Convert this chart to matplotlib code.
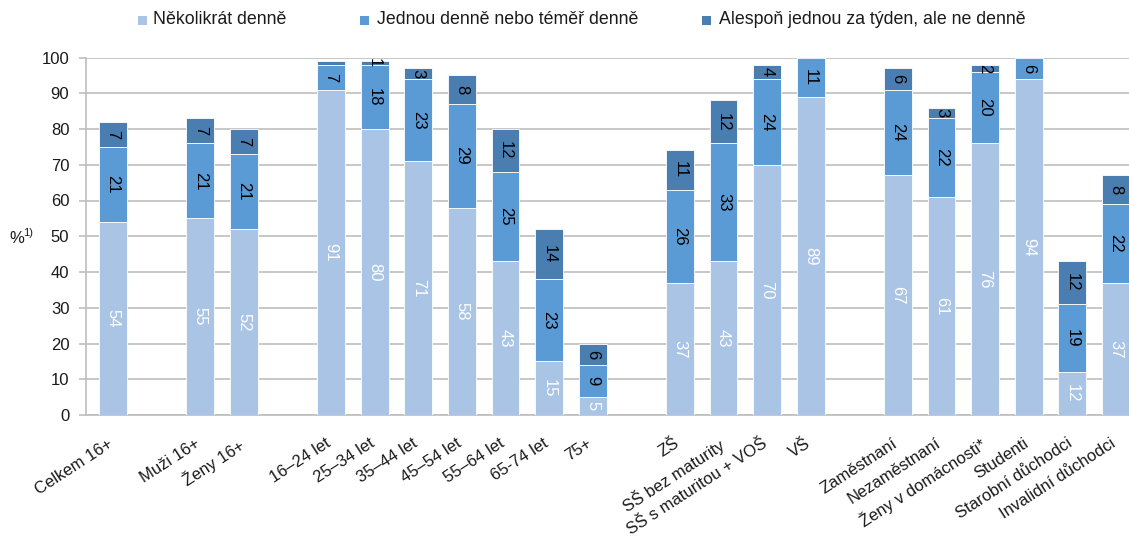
import matplotlib
matplotlib.use("Agg")
import matplotlib.pyplot as plt
import matplotlib.transforms as mtransforms
from matplotlib.patches import Rectangle

plt.rcParams['font.family'] = ['Liberation Sans', 'DejaVu Sans']

# Categories, listed group by group (a blank slot separates groups)
group_sizes = [1, 2, 7, 4, 6]
categories = [
    "Celkem 16+",
    "Muži 16+", "Ženy 16+",
    "16–24 let", "25–34 let", "35–44 let", "45–54 let", "55–64 let", "65-74 let", "75+",
    "ZŠ", "SŠ bez maturity", "SŠ s maturitou + VOŠ", "VŠ",
    "Zaměstnaní", "Nezaměstnaní", "Ženy v domácnosti*", "Studenti",
    "Starobní důchodci", "Invalidní důchodci",
]

series_names = ["Několikrát denně", "Jednou denně nebo téměř denně",
                "Alespoň jednou za týden, ale ne denně"]

several_daily = [54, 55, 52, 91, 80, 71, 58, 43, 15, 5, 37, 43, 70, 89, 67, 61, 76, 94, 12, 37]
daily = [21, 21, 21, 7, 18, 23, 29, 25, 23, 9, 26, 33, 24, 11, 24, 22, 20, 6, 19, 22]
weekly = [7, 7, 7, 1, 1, 3, 8, 12, 14, 6, 11, 12, 4, 0, 6, 3, 2, 0, 12, 8]
weekly_labelled = [True, True, True, False, True, True, True, True, True, True,
                   True, True, True, False, True, True, True, False, True, True]

colors = ["#A9C4E5", "#5B9BD5", "#4A7DB0"]
grid_color = "#BEBEBE"
text_color = "#1a1a1a"

# x positions with one empty slot between groups
positions = []
slot = 0
for size in group_sizes:
    for _ in range(size):
        positions.append(slot)
        slot += 1
    slot += 1

W, H = 1129, 536
fig = plt.figure(figsize=(W / 100, H / 100), dpi=100)
ax = fig.add_axes([86 / W, 121 / H, 1 - 86 / W, (415 - 57.5) / H])

bar_w = 0.64
bottoms = [0] * len(categories)
for vals, col in zip([several_daily, daily, weekly], colors):
    ax.bar(positions, vals, bottom=bottoms, width=bar_w, color=col,
           edgecolor="white", linewidth=0.6, zorder=3)
    bottoms = [b + v for b, v in zip(bottoms, vals)]

# value labels inside segments, rotated to read top-down
for i, x in enumerate(positions):
    base = 0
    for k, vals in enumerate([several_daily, daily, weekly]):
        v = vals[i]
        show = v > 0 and (k < 2 or weekly_labelled[i])
        if show:
            ax.text(x, base + v / 2, f"{v}", rotation=-90, ha="center", va="center",
                    rotation_mode="anchor", fontsize=12,
                    color="white" if k == 0 else "black", zorder=4)
        base += v

ax.set_ylim(0, 100)
ax.set_xlim(-0.62, 23.3)
ax.set_yticks(range(0, 101, 10))
ax.yaxis.grid(True, color=grid_color, linewidth=1.2, zorder=0)
ax.set_axisbelow(True)
ax.tick_params(axis="y", length=5, color=grid_color, width=1.2, pad=7,
               labelsize=12, labelcolor=text_color)
ax.tick_params(axis="x", length=0, pad=15, labelsize=12, labelcolor=text_color)
for side in ["top", "right"]:
    ax.spines[side].set_visible(False)
for side in ["left", "bottom"]:
    ax.spines[side].set_color(grid_color)
    ax.spines[side].set_linewidth(1.2)

ax.set_xticks(positions)
ax.set_xticklabels(categories, rotation=33, ha="right", va="top",
                   rotation_mode="anchor")
shift = mtransforms.ScaledTranslation(-6 / 100, 0, fig.dpi_scale_trans)
for lbl in ax.get_xticklabels():
    lbl.set_transform(lbl.get_transform() + shift)

# y axis caption "%" with superscript note mark
fig.text(9 / W, 1 - 243 / H, "%", fontsize=12, color=text_color, ha="left", va="baseline")
fig.text(23 / W, 1 - 236 / H, "1)", fontsize=8, color=text_color, ha="left", va="baseline")

# legend row along the top
legend_square_x = [138, 360, 702]
legend_text_x = [153, 377, 719]
legend_y = 20
sq = 9
for name, col, sx, tx in zip(series_names, colors, legend_square_x, legend_text_x):
    fig.patches.append(Rectangle((sx / W, 1 - (legend_y + sq / 2) / H), sq / W, sq / H,
                                 transform=fig.transFigure, facecolor=col,
                                 edgecolor="none"))
    fig.text(tx / W, 1 - legend_y / H, name, fontsize=12.8, color=text_color,
             ha="left", va="center")

fig.savefig("out.png", dpi=100)
